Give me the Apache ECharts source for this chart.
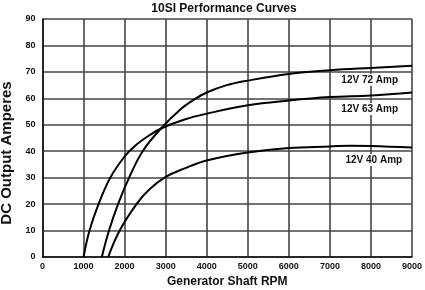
<!DOCTYPE html>
<html>
<head>
<meta charset="utf-8">
<script src="https://cdn.jsdelivr.net/npm/echarts@6/dist/echarts.min.js"></script>
<style>
    html, body { margin: 0; padding: 0; background: #fff; }
    #chart { width: 425px; height: 290px; }
</style>
</head>
<body>
<div id="chart"></div>
<script>
// rpm / amps
var rpm72 = [1445, 1620, 1840, 2110, 2440, 2893, 3337, 3660, 4000, 4470, 5000, 6000, 7000, 8000, 9000];
var amp72 = [0, 10, 20, 30, 40, 48.7, 55.5, 59.2, 62.2, 64.9, 66.7, 69.2, 70.6, 71.5, 72.3];
var rpm63 = [1000, 1145, 1365, 1650, 2000, 2250, 2600, 2900, 3460, 4000, 5000, 6000, 7000, 8000, 9000];
var amp63 = [0, 10, 20, 30, 38, 42, 46, 48.7, 52, 54.2, 57.4, 59.2, 60.5, 61.1, 62.2];
var rpm40 = [1600, 1880, 2290, 2600, 3000, 3460, 4000, 5000, 6000, 7000, 7500, 8000, 9000];
var amp40 = [0, 10, 20, 25.5, 30.3, 33.5, 36.5, 39.5, 41.2, 41.8, 42.1, 42, 41.4];
var curveNames = ['12V 72 Amp', '12V 63 Amp', '12V 40 Amp'];
var labelPos = [[7970, 67], [7970, 56], [8070, 36.7]];

var chart = echarts.init(document.getElementById('chart'));
var fontFam = '"Liberation Sans", Arial, sans-serif';

function pairs(xs, ys) {
    var out = [];
    for (var i = 0; i < xs.length; i++) {
        out.push([xs[i], ys[i]]);
    }
    return out;
}

function curve(idx, xs, ys) {
    return {
        name: curveNames[idx],
        type: 'line',
        data: pairs(xs, ys),
        smooth: 0.4,
        showSymbol: false,
        lineStyle: { color: '#000', width: 2 },
        markPoint: {
            symbol: 'circle',
            symbolSize: 0,
            data: [{
                coord: labelPos[idx],
                label: {
                    show: true,
                    position: 'inside',
                    formatter: curveNames[idx],
                    color: '#111',
                    fontFamily: fontFam,
                    fontWeight: 'bold',
                    fontSize: 10,
                    backgroundColor: '#fff',
                    padding: [1, 2]
                }
            }]
        }
    };
}

var option = {
    backgroundColor: '#fff',
    animation: false,
    title: {
        text: '10SI Performance Curves',
        left: 219,
        top: -2,
        textAlign: 'center',
        textStyle: { fontFamily: fontFam, fontSize: 12, fontWeight: 'bold', color: '#111' }
    },
    grid: { left: 42.5, right: 13, top: 19, bottom: 33, containLabel: false, outerBoundsMode: 'none' },
    xAxis: {
        type: 'value',
        min: 0,
        max: 9000,
        interval: 1000,
        name: 'Generator Shaft RPM',
        nameLocation: 'middle',
        nameGap: 18,
        nameTextStyle: { fontFamily: fontFam, fontSize: 12, fontWeight: 'bold', color: '#111' },
        axisLine: { lineStyle: { color: '#111', width: 1.5 } },
        axisTick: { show: false },
        axisLabel: {
            margin: 5,
            formatter: function (v) { return String(v); },
            fontFamily: '"Liberation Sans Narrow", ' + fontFam,
            fontSize: 9,
            fontWeight: 'bold',
            color: '#111'
        },
        splitLine: { show: true, lineStyle: { color: '#444', width: 1.6 } }
    },
    yAxis: {
        type: 'value',
        min: 0,
        max: 90,
        interval: 10,
        name: 'DC Output Amperes',
        nameLocation: 'middle',
        nameGap: 26,
        nameTextStyle: {
            fontFamily: fontFam, fontSize: 15, fontWeight: 'bold', color: '#111',
            padding: [0, 30, 0, 0]
        },
        axisLine: { show: true, lineStyle: { color: '#111', width: 1.5 } },
        axisTick: { show: false },
        axisLabel: {
            margin: 7,
            fontFamily: '"Liberation Sans Narrow", ' + fontFam,
            fontSize: 9,
            fontWeight: 'bold',
            color: '#111'
        },
        splitLine: { show: true, lineStyle: { color: '#444', width: 1.6 } }
    },
    series: [
        curve(0, rpm72, amp72),
        curve(1, rpm63, amp63),
        curve(2, rpm40, amp40)
    ]
};
chart.setOption(option);
</script>
</body>
</html>
